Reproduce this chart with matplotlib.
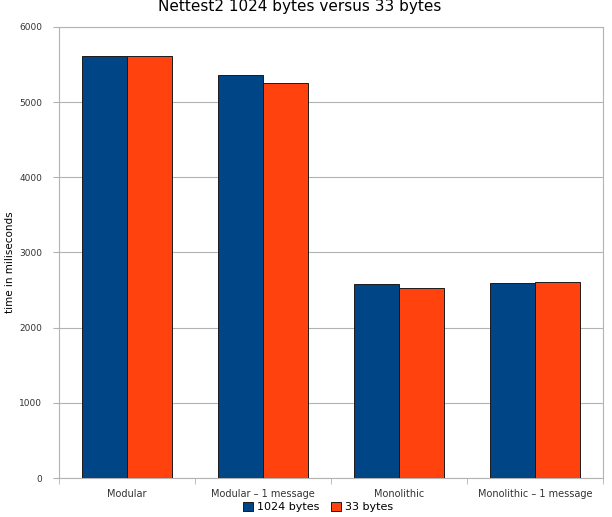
import numpy as np
import matplotlib.pyplot as plt

categories = ['Modular', 'Modular \u2013 1 message', 'Monolithic', 'Monolithic \u2013 1 message']
bytes_1024 = [5610, 5360, 2580, 2595]
bytes_33 = [5615, 5255, 2525, 2605]
yticks = [0, 1000, 2000, 3000, 4000, 5000, 6000]

fig = plt.figure(figsize=(6.12, 5.17), dpi=100)
ax = fig.add_axes([59/612, 39/517, 544/612, 451/517])

x = np.arange(len(categories))
w = 0.33
ax.bar(x - w/2, bytes_1024, w, color='#004586', edgecolor='#1a1a1a', linewidth=0.7,
       label='1024 bytes', zorder=3)
ax.bar(x + w/2, bytes_33, w, color='#ff420e', edgecolor='#1a1a1a', linewidth=0.7,
       label='33 bytes', zorder=3)

ax.set_xlim(-0.5, len(categories) - 0.5)
ax.set_ylim(0, 6000)
ax.set_yticks(yticks)
ax.set_yticklabels([str(v) for v in yticks], fontsize=6.5, color='#333333')
ax.set_xticks(x)
ax.set_xticklabels(categories, fontsize=7, color='#333333')
ax.tick_params(axis='x', length=0, pad=8)
ax.set_xticks(np.arange(len(categories) + 1) - 0.5, minor=True)
ax.tick_params(axis='x', which='minor', length=4, color='#b3b3b3')
ax.tick_params(axis='y', length=4, color='#b3b3b3', pad=8)
ax.yaxis.grid(True, color='#b3b3b3', linewidth=0.8, zorder=0)
for s in ax.spines.values():
    s.set_color('#b3b3b3')

# y label placed by hand so it stays inside the figure
fig.text(10/612, 1.0 - 262/517, 'time in miliseconds', fontsize=7.5,
         rotation=90, ha='center', va='center')
fig.text(0.49, 1.0 - 6/517, 'Nettest2 1024 bytes versus 33 bytes', fontsize=11,
         ha='center', va='center')
fig.legend(loc='center', bbox_to_anchor=(0.52, 10/517), ncol=2, frameon=False,
           fontsize=8, handlelength=0.9, handleheight=0.9, handletextpad=0.4,
           columnspacing=1.0)

fig.savefig('out.png', dpi=100)
